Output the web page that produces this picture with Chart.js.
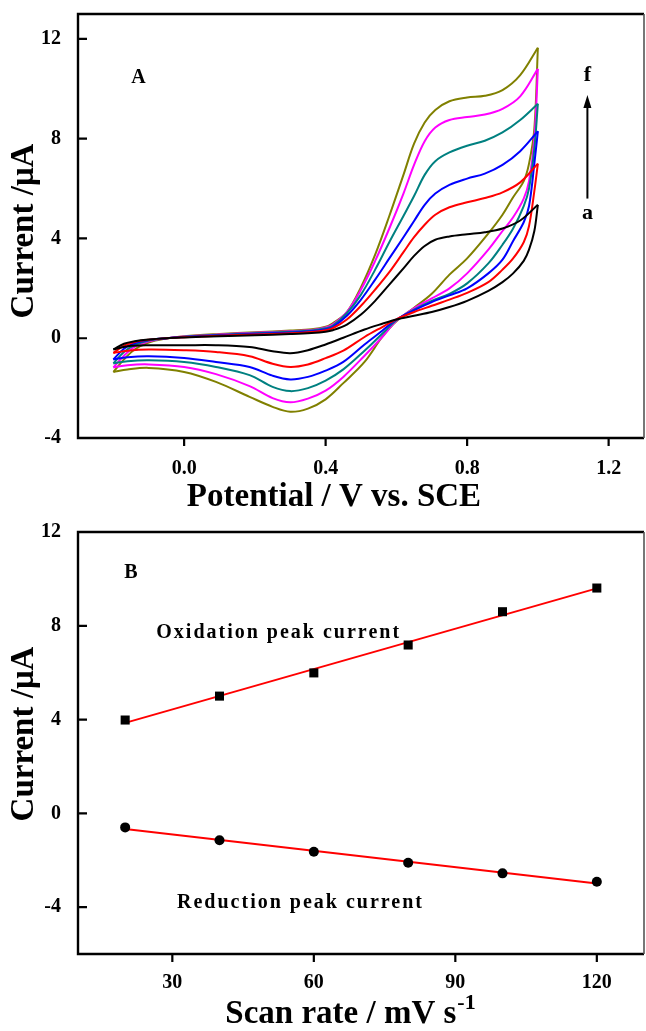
<!DOCTYPE html>
<html>
<head>
<meta charset="utf-8">
<script src="https://cdn.jsdelivr.net/npm/chart.js@4.4.1/dist/chart.umd.min.js"></script>
<style>
html,body{margin:0;padding:0;background:#ffffff;}
#wrap{position:relative;width:646px;height:1031px;overflow:hidden;background:#fff;}
#c1{position:absolute;left:0;top:0;}
#c2{position:absolute;left:0;top:520px;}
</style>
</head>
<body>
<div id="wrap">
<canvas id="c1" width="646" height="520"></canvas>
<canvas id="c2" width="646" height="511"></canvas>
</div>
<script>
// ---------------- DATA (panel A: cyclic voltammograms, curves a..f) ----------------
const curveLabels = ['a', 'b', 'c', 'd', 'e', 'f'];
// forward (anodic) scan potentials, V vs. SCE
const fwdPotential = [-0.2,-0.17,-0.14,-0.1,-0.05,0,0.1,0.2,0.3,0.36,0.4,0.42,0.46,0.5,0.54,0.58,0.62,0.65,0.68,0.71,0.75,0.8,0.85,0.9,0.95,1.0];
// reverse (cathodic) scan potentials, V vs. SCE
const revPotential = [1.0,0.99,0.975,0.96,0.93,0.9,0.86,0.8,0.75,0.7,0.65,0.6,0.56,0.51,0.45,0.4,0.35,0.3,0.25,0.185,0.09,0,-0.1,-0.16,-0.2];

// currents (µA) on the forward scan
const fwdA = [-0.45,-0.22,-0.12,-0.05,0.0,0.03,0.08,0.12,0.17,0.21,0.26,0.32,0.55,0.95,1.5,2.15,2.8,3.3,3.7,3.95,4.08,4.17,4.25,4.4,4.72,5.35];
const fwdB = [-0.59,-0.3,-0.15,-0.06,0.0,0.04,0.1,0.15,0.2,0.25,0.32,0.4,0.75,1.3,1.95,2.65,3.45,4.05,4.55,4.95,5.25,5.45,5.62,5.85,6.25,7.0];
const fwdC = [-0.85,-0.42,-0.2,-0.07,0.0,0.05,0.12,0.18,0.23,0.28,0.36,0.45,0.9,1.55,2.35,3.2,4.05,4.7,5.35,5.8,6.15,6.4,6.6,6.95,7.5,8.3];
const fwdD = [-1.01,-0.55,-0.27,-0.09,0.0,0.06,0.13,0.2,0.26,0.31,0.4,0.5,1.0,1.75,2.75,3.85,4.9,5.7,6.55,7.1,7.45,7.72,7.92,8.25,8.75,9.4];
const fwdE = [-1.17,-0.7,-0.35,-0.12,0.0,0.07,0.15,0.22,0.28,0.33,0.43,0.55,1.05,1.95,3.1,4.4,5.8,6.95,7.9,8.45,8.75,8.87,8.97,9.2,9.7,10.8];
const fwdF = [-1.35,-0.85,-0.45,-0.17,-0.01,0.08,0.17,0.24,0.31,0.36,0.46,0.6,1.05,2.05,3.35,4.9,6.55,7.8,8.65,9.15,9.5,9.65,9.72,9.95,10.55,11.65];

// currents (µA) on the reverse scan
const revA = [5.35,4.3,3.55,3.1,2.6,2.25,1.9,1.5,1.25,1.05,0.9,0.75,0.58,0.35,0.02,-0.25,-0.48,-0.6,-0.52,-0.35,-0.28,-0.28,-0.28,-0.32,-0.45];
const revB = [7.0,5.9,4.5,3.85,3.2,2.75,2.25,1.82,1.55,1.3,1.05,0.76,0.45,0.05,-0.5,-0.8,-1.05,-1.15,-1.02,-0.72,-0.55,-0.48,-0.45,-0.5,-0.59];
const revC = [8.3,7.0,5.3,4.65,3.9,3.15,2.6,2.0,1.72,1.45,1.12,0.75,0.3,-0.25,-0.95,-1.3,-1.55,-1.65,-1.5,-1.15,-0.95,-0.79,-0.72,-0.76,-0.85];
const revD = [9.4,7.6,6.0,5.3,4.4,3.75,3.0,2.2,1.78,1.5,1.15,0.72,0.18,-0.5,-1.25,-1.7,-2.0,-2.12,-1.95,-1.48,-1.15,-0.95,-0.88,-0.92,-1.01];
const revE = [10.8,8.0,6.3,5.6,4.85,4.3,3.55,2.6,2.0,1.6,1.2,0.7,0.05,-0.7,-1.55,-2.1,-2.42,-2.57,-2.4,-1.92,-1.44,-1.15,-1.05,-1.08,-1.17];
const revF = [11.65,8.4,7.0,6.3,5.65,4.95,4.2,3.2,2.55,1.78,1.22,0.68,0.05,-0.95,-1.8,-2.45,-2.82,-2.95,-2.75,-2.35,-1.75,-1.35,-1.19,-1.25,-1.35];

const potentialTicks = [0.0, 0.4, 0.8, 1.2];
const currentTicksA = [-4, 0, 4, 8, 12];

// ---------------- DATA (panel B: peak currents vs scan rate) ----------------
const scanRate = [20, 40, 60, 80, 100, 120];
const oxidationPeak = [3.98, 5.0, 5.99, 7.18, 8.6, 9.61];
const reductionPeak = [-0.6, -1.15, -1.64, -2.11, -2.56, -2.92];
const scanRateTicks = [30, 60, 90, 120];
const currentTicksB = [-4, 0, 4, 8, 12];

// ---------------- STYLE ----------------
const curveColors = ['#000000', '#ff0000', '#0000ff', '#008080', '#ff00ff', '#808000'];
const SERIF = '"Liberation Serif", "Times New Roman", serif';

const fwdSets = [fwdA, fwdB, fwdC, fwdD, fwdE, fwdF];
const revSets = [revA, revB, revC, revD, revE, revF];

function linFit(xs, ys) {
  const n = xs.length;
  const mx = xs.reduce((s, v) => s + v, 0) / n;
  const my = ys.reduce((s, v) => s + v, 0) / n;
  let sxy = 0, sxx = 0;
  for (let i = 0; i < n; i++) { sxy += (xs[i] - mx) * (ys[i] - my); sxx += (xs[i] - mx) ** 2; }
  const slope = sxy / sxx;
  return { slope, intercept: my - slope * mx };
}

function makeFramePlugin(extra) {
  return {
    id: 'frameTicks',
    afterDraw(chart) {
      const { ctx, chartArea: a, scales } = chart;
      ctx.save();
      ctx.strokeStyle = '#000'; ctx.lineWidth = 2.4; ctx.lineCap = 'butt';
      ctx.beginPath();
      ctx.moveTo(a.right, a.top); ctx.lineTo(a.left, a.top); ctx.lineTo(a.left, a.bottom); ctx.lineTo(a.right, a.bottom);
      ctx.stroke();
      ctx.strokeStyle = '#555'; ctx.lineWidth = 1.6;
      ctx.beginPath(); ctx.moveTo(a.right, a.top); ctx.lineTo(a.right, a.bottom); ctx.stroke();
      // ticks: y inward, x outward
      ctx.strokeStyle = '#000'; ctx.lineWidth = 2.2;
      ctx.beginPath();
      scales.y.ticks.forEach(t => { const p = scales.y.getPixelForValue(t.value); ctx.moveTo(a.left, p); ctx.lineTo(a.left + 9, p); });
      scales.x.ticks.forEach(t => { const p = scales.x.getPixelForValue(t.value); ctx.moveTo(p, a.bottom); ctx.lineTo(p, a.bottom + 8); });
      ctx.stroke();
      extra(chart, ctx);
      ctx.restore();
    }
  };
}

function drawYTitle(ctx, text, cx, cy) {
  ctx.save(); ctx.translate(cx, cy); ctx.rotate(-Math.PI / 2);
  ctx.font = 'bold 33px ' + SERIF; ctx.fillStyle = '#000'; ctx.textAlign = 'center'; ctx.textBaseline = 'alphabetic';
  ctx.fillText(text, 0, 0); ctx.restore();
}

const tickFont = { family: SERIF, size: 20, weight: 'bold' };
function fixX(h) { return s => { s.height = h; s.paddingLeft = 0; s.paddingRight = 0; }; }
function fixY(w) { return s => { s.width = w; s.paddingTop = 0; s.paddingBottom = 0; }; }

// ---------------- CHART A ----------------
const cvDatasets = [];
fwdSets.forEach((arr, i) => {
  cvDatasets.push({ label: curveLabels[i] + ' forward', data: fwdPotential.map((v, k) => ({ x: v, y: arr[k] })),
    borderColor: curveColors[i], borderWidth: 2, pointRadius: 0, showLine: true, tension: 0.35, fill: false });
  cvDatasets.push({ label: curveLabels[i] + ' reverse', data: revPotential.map((v, k) => ({ x: v, y: revSets[i][k] })),
    borderColor: curveColors[i], borderWidth: 2, pointRadius: 0, showLine: true, tension: 0.35, fill: false });
});

new Chart(document.getElementById('c1'), {
  type: 'scatter', data: { datasets: cvDatasets },
  options: {
    responsive: false, animation: false, events: [],
    layout: { autoPadding: false, padding: { top: 14, right: 2, left: 0, bottom: 0 } },
    plugins: { legend: { display: false }, tooltip: { enabled: false } },
    scales: {
      x: { type: 'linear', min: -0.3, max: 1.3,
        afterBuildTicks: s => { s.ticks = potentialTicks.map(v => ({ value: v })); }, afterFit: fixX(82),
        grid: { display: false }, border: { display: false },
        ticks: { font: tickFont, color: '#000', padding: 11, maxRotation: 0, callback: v => v.toFixed(1) } },
      y: { type: 'linear', min: -4, max: 13,
        afterBuildTicks: s => { s.ticks = currentTicksA.map(v => ({ value: v })); }, afterFit: fixY(78),
        grid: { display: false }, border: { display: false },
        ticks: { font: tickFont, color: '#000', padding: 9, callback: v => String(v) } }
    }
  },
  plugins: [makeFramePlugin((chart, ctx) => {
    const xs = chart.scales.x, ys = chart.scales.y;
    ctx.fillStyle = '#000';
    drawYTitle(ctx, 'Current /\u03BCA', 33, 231);
    ctx.font = 'bold 33px ' + SERIF; ctx.textAlign = 'center'; ctx.textBaseline = 'alphabetic';
    ctx.fillText('Potential / V vs. SCE', 334, 506);
    ctx.font = 'bold 20px ' + SERIF;
    ctx.fillText('A', xs.getPixelForValue(-0.129), ys.getPixelForValue(10.25));
    ctx.font = 'bold 22px ' + SERIF;
    ctx.fillText('f', xs.getPixelForValue(1.14), ys.getPixelForValue(10.3));
    ctx.fillText('a', xs.getPixelForValue(1.14), ys.getPixelForValue(4.8));
    const ax = xs.getPixelForValue(1.14);
    const y0 = ys.getPixelForValue(5.6), y1 = ys.getPixelForValue(9.75);
    ctx.strokeStyle = '#000'; ctx.lineWidth = 2;
    ctx.beginPath(); ctx.moveTo(ax, y0); ctx.lineTo(ax, y1 + 10); ctx.stroke();
    ctx.beginPath(); ctx.moveTo(ax, y1); ctx.lineTo(ax - 4, y1 + 13); ctx.lineTo(ax + 4, y1 + 13); ctx.closePath(); ctx.fill();
  })]
});

// ---------------- CHART B ----------------
const oxFit = linFit(scanRate, oxidationPeak);
const redFit = linFit(scanRate, reductionPeak);
const xFirst = scanRate[0], xLast = scanRate[scanRate.length - 1];

new Chart(document.getElementById('c2'), {
  type: 'scatter',
  data: { datasets: [
    { label: 'Oxidation peak current', data: scanRate.map((v, k) => ({ x: v, y: oxidationPeak[k] })),
      pointStyle: 'rect', pointRadius: 6.4, backgroundColor: '#000', borderColor: '#000', borderWidth: 0, showLine: false },
    { label: 'Reduction peak current', data: scanRate.map((v, k) => ({ x: v, y: reductionPeak[k] })),
      pointStyle: 'circle', pointRadius: 5, backgroundColor: '#000', borderColor: '#000', borderWidth: 0, showLine: false },
    { label: 'Oxidation fit', data: [xFirst, xLast].map(x => ({ x, y: oxFit.intercept + oxFit.slope * x })),
      showLine: true, pointRadius: 0, borderColor: '#ff0000', borderWidth: 2 },
    { label: 'Reduction fit', data: [xFirst, xLast].map(x => ({ x, y: redFit.intercept + redFit.slope * x })),
      showLine: true, pointRadius: 0, borderColor: '#ff0000', borderWidth: 2 }
  ] },
  options: {
    responsive: false, animation: false, events: [],
    layout: { autoPadding: false, padding: { top: 12, right: 2, left: 0, bottom: 0 } },
    plugins: { legend: { display: false }, tooltip: { enabled: false } },
    scales: {
      x: { type: 'linear', min: 10, max: 130,
        afterBuildTicks: s => { s.ticks = scanRateTicks.map(v => ({ value: v })); }, afterFit: fixX(77),
        grid: { display: false }, border: { display: false },
        ticks: { font: tickFont, color: '#000', padding: 9, maxRotation: 0, callback: v => String(v) } },
      y: { type: 'linear', min: -6, max: 12,
        afterBuildTicks: s => { s.ticks = currentTicksB.map(v => ({ value: v })); }, afterFit: fixY(78),
        grid: { display: false }, border: { display: false },
        ticks: { font: tickFont, color: '#000', padding: 9, callback: v => String(v) } }
    }
  },
  plugins: [makeFramePlugin((chart, ctx) => {
    const xs = chart.scales.x, ys = chart.scales.y;
    ctx.fillStyle = '#000';
    drawYTitle(ctx, 'Current /\u03BCA', 33, 734 - 520);
    ctx.font = 'bold 33px ' + SERIF; ctx.textBaseline = 'alphabetic';
    const main = 'Scan rate / mV s';
    const wMain = ctx.measureText(main).width;
    ctx.font = 'bold 22px ' + SERIF;
    const sup = '-1';
    const wSup = ctx.measureText(sup).width;
    const startX = 350 - (wMain + wSup) / 2;
    ctx.textAlign = 'left';
    ctx.font = 'bold 33px ' + SERIF;
    ctx.fillText(main, startX, 1023 - 520);
    ctx.font = 'bold 22px ' + SERIF;
    ctx.fillText(sup, startX + wMain + 1, 1023 - 520 - 14);
    ctx.font = 'bold 20px ' + SERIF; ctx.textAlign = 'center';
    ctx.fillText('B', xs.getPixelForValue(21.2), ys.getPixelForValue(10.05));
    ctx.textAlign = 'left';
    try { ctx.letterSpacing = '2px'; } catch (e) {}
    ctx.fillText('Oxidation peak current', xs.getPixelForValue(26.6), ys.getPixelForValue(7.48));
    ctx.fillText('Reduction peak current', xs.getPixelForValue(31.0), ys.getPixelForValue(-4.03));
    try { ctx.letterSpacing = '0px'; } catch (e) {}
  })]
});
</script>
</body>
</html>
